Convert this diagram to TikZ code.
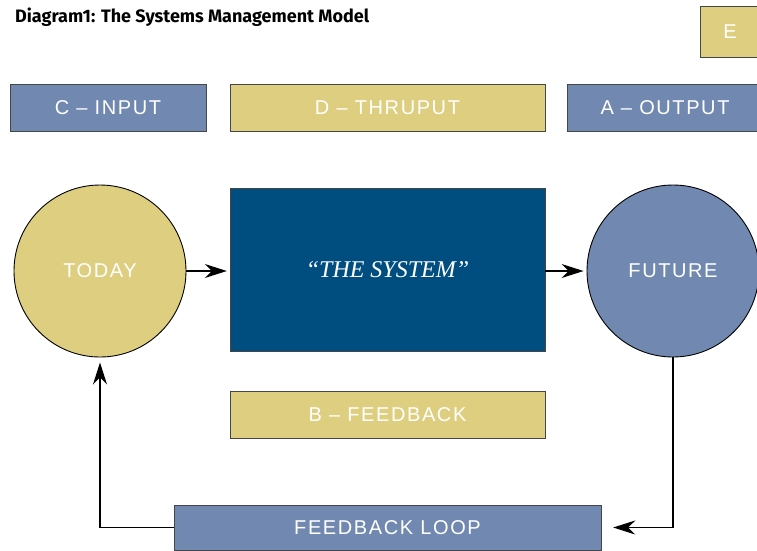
\documentclass[tikz,border=0pt]{standalone}
\usepackage{fontspec}
\usepackage{tikz}
\usetikzlibrary{positioning,arrows.meta}
\setmainfont{Liberation Serif}
\newfontfamily\headfont{Fira Sans}
\newfontfamily\boxfont[LetterSpace=8,Ligatures=TeX]{Liberation Sans}
\definecolor{sand}{RGB}{222,207,128}
\definecolor{slate}{RGB}{113,137,176}
\definecolor{navy}{RGB}{0,78,127}
\definecolor{rim}{RGB}{70,70,70}
\tikzset{
  >={Stealth[length=22pt,width=14pt,inset=7pt]},
  flow/.style ={line width=1.5pt, ->},
  tanbox/.style ={draw=rim, fill=sand, text=white, font=\boxfont\fontsize{20}{24}\selectfont},
  bluebox/.style={draw=rim, fill=slate, text=white, font=\boxfont\fontsize{20}{24}\selectfont},
  blob/.style   ={circle, draw=black, line width=0.9pt, minimum size=172pt, inner sep=0pt, text=white,
                  font=\boxfont\fontsize{20}{24}\selectfont},
}

\begin{document}
\begin{tikzpicture}[x=1pt, y=-1pt]
  \clip (0,0) rectangle (757,550);
  \fill[white] (0,0) rectangle (757,550);

  % ---------- heading ----------
  \node[anchor=base west, inner sep=0pt, font=\headfont\bfseries\fontsize{18}{21}\selectfont] (title) at (15,22)
    {Diagram1: The Systems Management Model};
  \node[tanbox, minimum width=60pt, minimum height=51pt] (e) at (730,31.5) {E};

  % ---------- top row of labels ----------
  \node[bluebox, minimum width=196pt, minimum height=47pt] (input)  at (108,107.5) {C – INPUT};
  \node[tanbox,  minimum width=315pt, minimum height=47pt] (thru)   at (387.5,107.5) {D – THRUPUT};
  \node[bluebox, minimum width=196pt, minimum height=47pt] (output) at (665,107.5) {A – OUTPUT};

  % ---------- today, the system, future ----------
  \node[blob, fill=sand]  (today)  at (100,271) {TODAY};
  \node[draw=rim, fill=navy, minimum width=315pt, minimum height=163pt, text=white,
        font=\itshape\fontsize{24}{28}\selectfont] (sys) at (387.5,269.5) {``THE SYSTEM''};
  \node[blob, fill=slate] (future) at (673,271) {FUTURE};

  \node[tanbox, minimum width=315pt, minimum height=47pt] (fb) at (387.5,414.5) {B – FEEDBACK};
  \node[bluebox, minimum width=427pt, minimum height=45pt] (loop) at (387.5,527.5) {FEEDBACK LOOP};

  % arrows along the main line
  \draw[flow, shorten >=3pt] (today.east) -- (sys.west |- today.east);
  \draw[flow, shorten >=3pt] (sys.east |- future.west) -- (future.west);

  % the loop back
  \draw[flow, shorten >=12pt] (future.south) |- (loop.east);
  \draw[flow, shorten >=5pt] (loop.west) -| (today.south);
\end{tikzpicture}
\end{document}
